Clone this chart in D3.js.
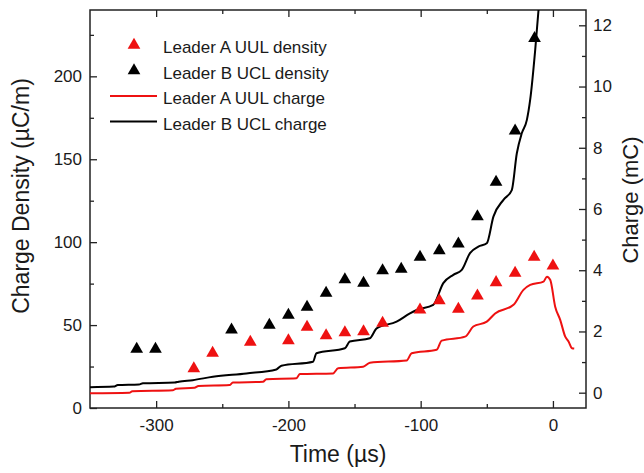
<!DOCTYPE html>
<html lang="en">
<head>
  <meta charset="UTF-8">
  <title>Leader charge density</title>
  <script src="https://d3js.org/d3.v7.min.js"></script>
  <style>
    body { margin: 0; background: #fff; font-family: Arial, "Liberation Sans", sans-serif; }
    svg text { fill: #1a1a1a; }
    .tick line { stroke: #222; stroke-width: 1.3; }
    .domain { display: none; }
  </style>
</head>
<body>
<div id="chart"></div>
<script>
// densities (µC/m), left axis
const timesA = [-271.5, -257.3, -228.8, -200, -185.9, -171.5, -157.3, -143.2, -128.8, -100.5, -85.9, -71.5, -57.1, -43, -28.6, -14.2, 0];
const densityA = [23.7, 33.1, 39.8, 40.7, 48.8, 43.6, 45.5, 46.1, 51.2, 59.2, 64.8, 59.6, 67.7, 75.7, 81.3, 91, 85.7];
const timesB = [-314.7, -300.5, -243, -214.4, -200, -185.9, -171.5, -157.3, -143.2, -128.8, -114.7, -100.5, -85.9, -71.5, -57.1, -43, -28.6, -13.9];
const densityB = [35.5, 35.5, 47.2, 50, 56, 60.8, 69.3, 77.5, 75.3, 82.9, 83.7, 91, 94.9, 99, 115.4, 136.3, 167.2, 222.9];

// charge (mC), right axis
const chargeTA = [-350.5, -320.2, -318, -287.4, -285, -271, -268, -244.5, -242, -219.2, -216.7, -193.9, -191.4, -166.2, -162.4, -143.5, -138.4, -110.6, -106.8, -87.9, -84.1, -66.4, -60.2, -50, -43.7, -29.8, -22.3, -17.2, -7.1, -4.5, -2, 1.7, 5.5, 9.3, 11.8, 14.4, 16.1];
const chargeA = [-0.02, 0.0, 0.05, 0.08, 0.13, 0.16, 0.22, 0.25, 0.33, 0.36, 0.44, 0.47, 0.61, 0.63, 0.8, 0.85, 0.98, 1.05, 1.29, 1.4, 1.7, 1.83, 2.16, 2.32, 2.59, 2.87, 3.36, 3.52, 3.63, 3.79, 3.68, 2.81, 2.38, 1.83, 1.67, 1.45, 1.44];
const chargeTB = [-350.5, -332, -329, -313, -310, -286, -283, -272.3, -257.1, -231.8, -209.1, -205.3, -181.4, -178.8, -157.3, -153.6, -138.4, -133.3, -118.2, -108.1, -103, -90.5, -82.9, -75.3, -68.9, -62.7, -56.4, -50, -45, -37.4, -31.1, -27.3, -23.5, -19.7, -17.2, -13.4, -10.9, -10];
const chargeB = [0.18, 0.2, 0.25, 0.27, 0.31, 0.33, 0.36, 0.41, 0.52, 0.63, 0.76, 0.88, 1.01, 1.29, 1.45, 1.67, 1.78, 2.1, 2.32, 2.59, 2.7, 2.87, 3.58, 3.85, 4.01, 4.56, 4.77, 4.88, 5.75, 6.3, 6.62, 7.82, 8.48, 8.91, 9.57, 11.2, 12.5, 13];

const xTicks = [-300, -200, -100, 0];
const xMinor = [-250, -150, -50];
const yTicks = [0, 50, 100, 150, 200];
const yMinor = [25, 75, 125, 175, 225];
const y2Ticks = [0, 2, 4, 6, 8, 10, 12];
const y2Minor = [1, 3, 5, 7, 9, 11];

const W = 644, H = 473;
const margin = {top: 10, right: 58, bottom: 65, left: 90};
const width = W - margin.left - margin.right,
      height = H - margin.top - margin.bottom;

const svg = d3.select("#chart").append("svg").attr("width", W).attr("height", H);
const g = svg.append("g").attr("transform", `translate(${margin.left},${margin.top})`);

const x = d3.scaleLinear().domain([-350, 25]).range([0, width]);
const y = d3.scaleLinear().domain([0, 240]).range([height, 0]);
const y2 = d3.scaleLinear().domain([-0.5, 12.5]).range([height, 0]);

const fmt = d => String(d);

// axes, ticks inside
g.append("g").attr("transform", `translate(0,${height})`)
  .call(d3.axisBottom(x).tickValues(xTicks).tickSize(-7).tickPadding(11).tickFormat(fmt))
  .call(a => a.selectAll("text").style("font-size", "17px"));
g.append("g").attr("transform", `translate(0,${height})`)
  .call(d3.axisBottom(x).tickValues(xMinor).tickSize(-4).tickFormat(""));
g.append("g")
  .call(d3.axisTop(x).tickValues(xTicks).tickSize(-7).tickFormat(""));
g.append("g")
  .call(d3.axisTop(x).tickValues(xMinor).tickSize(-4).tickFormat(""));

g.append("g")
  .call(d3.axisLeft(y).tickValues(yTicks).tickSize(-7).tickPadding(8).tickFormat(fmt))
  .call(a => a.selectAll("text").style("font-size", "17px"));
g.append("g")
  .call(d3.axisLeft(y).tickValues(yMinor).tickSize(-4).tickFormat(""));

g.append("g").attr("transform", `translate(${width},0)`)
  .call(d3.axisRight(y2).tickValues(y2Ticks).tickSize(-7).tickPadding(7).tickFormat(fmt))
  .call(a => a.selectAll("text").style("font-size", "17px"));
g.append("g").attr("transform", `translate(${width},0)`)
  .call(d3.axisRight(y2).tickValues(y2Minor).tickSize(-4).tickFormat(""));

g.append("rect").attr("width", width).attr("height", height)
  .attr("fill", "none").attr("stroke", "#222").attr("stroke-width", 1.5);

// lines, clipped to the frame
g.append("clipPath").attr("id", "clip")
  .append("rect").attr("width", width).attr("height", height);

const line = d3.line().x(d => x(d[0])).y(d => y2(d[1])).curve(d3.curveMonotoneX);
g.append("path").datum(d3.zip(chargeTA, chargeA))
  .attr("clip-path", "url(#clip)")
  .attr("fill", "none").attr("stroke", "#ee1111").attr("stroke-width", 2)
  .attr("d", line);
g.append("path").datum(d3.zip(chargeTB, chargeB))
  .attr("clip-path", "url(#clip)")
  .attr("fill", "none").attr("stroke", "#000").attr("stroke-width", 2)
  .attr("d", line);

// triangles
const tri = d3.symbol(d3.symbolTriangle, 70);
g.selectAll(".ta").data(d3.zip(timesA, densityA)).enter().append("path")
  .attr("class", "ta").attr("fill", "#ee1111")
  .attr("transform", d => `translate(${x(d[0])},${y(d[1])})`).attr("d", tri);
g.selectAll(".tb").data(d3.zip(timesB, densityB)).enter().append("path")
  .attr("class", "tb").attr("fill", "#000")
  .attr("transform", d => `translate(${x(d[0])},${y(d[1])})`).attr("d", tri);

// legend
const legend = [
  {label: "Leader A UUL density", color: "#ee1111", type: "tri"},
  {label: "Leader B UCL density", color: "#000", type: "tri"},
  {label: "Leader A UUL charge", color: "#ee1111", type: "line"},
  {label: "Leader B UCL charge", color: "#000", type: "line"}
];
const lg = g.append("g");
legend.forEach((d, i) => {
  const cy = 35 + i * 25.5;
  if (d.type === "tri") {
    lg.append("path").attr("d", tri).attr("fill", d.color)
      .attr("transform", `translate(44,${cy})`);
  } else {
    lg.append("line").attr("x1", 20).attr("x2", 67).attr("y1", cy).attr("y2", cy)
      .attr("stroke", d.color).attr("stroke-width", 2);
  }
  lg.append("text").attr("x", 73).attr("y", cy + 8).style("font-size", "17px").text(d.label);
});

// axis titles
svg.append("text").attr("x", margin.left + width / 2).attr("y", 462)
  .attr("text-anchor", "middle").style("font-size", "23px").text("Time (\u00b5s)");
svg.append("text").attr("transform", "translate(29,196) rotate(-90)")
  .attr("text-anchor", "middle").style("font-size", "23px").text("Charge Density (\u00b5C/m)");
svg.append("text").attr("transform", "translate(638,200) rotate(-90)")
  .attr("text-anchor", "middle").style("font-size", "22px").text("Charge (mC)");
</script>
</body>
</html>
